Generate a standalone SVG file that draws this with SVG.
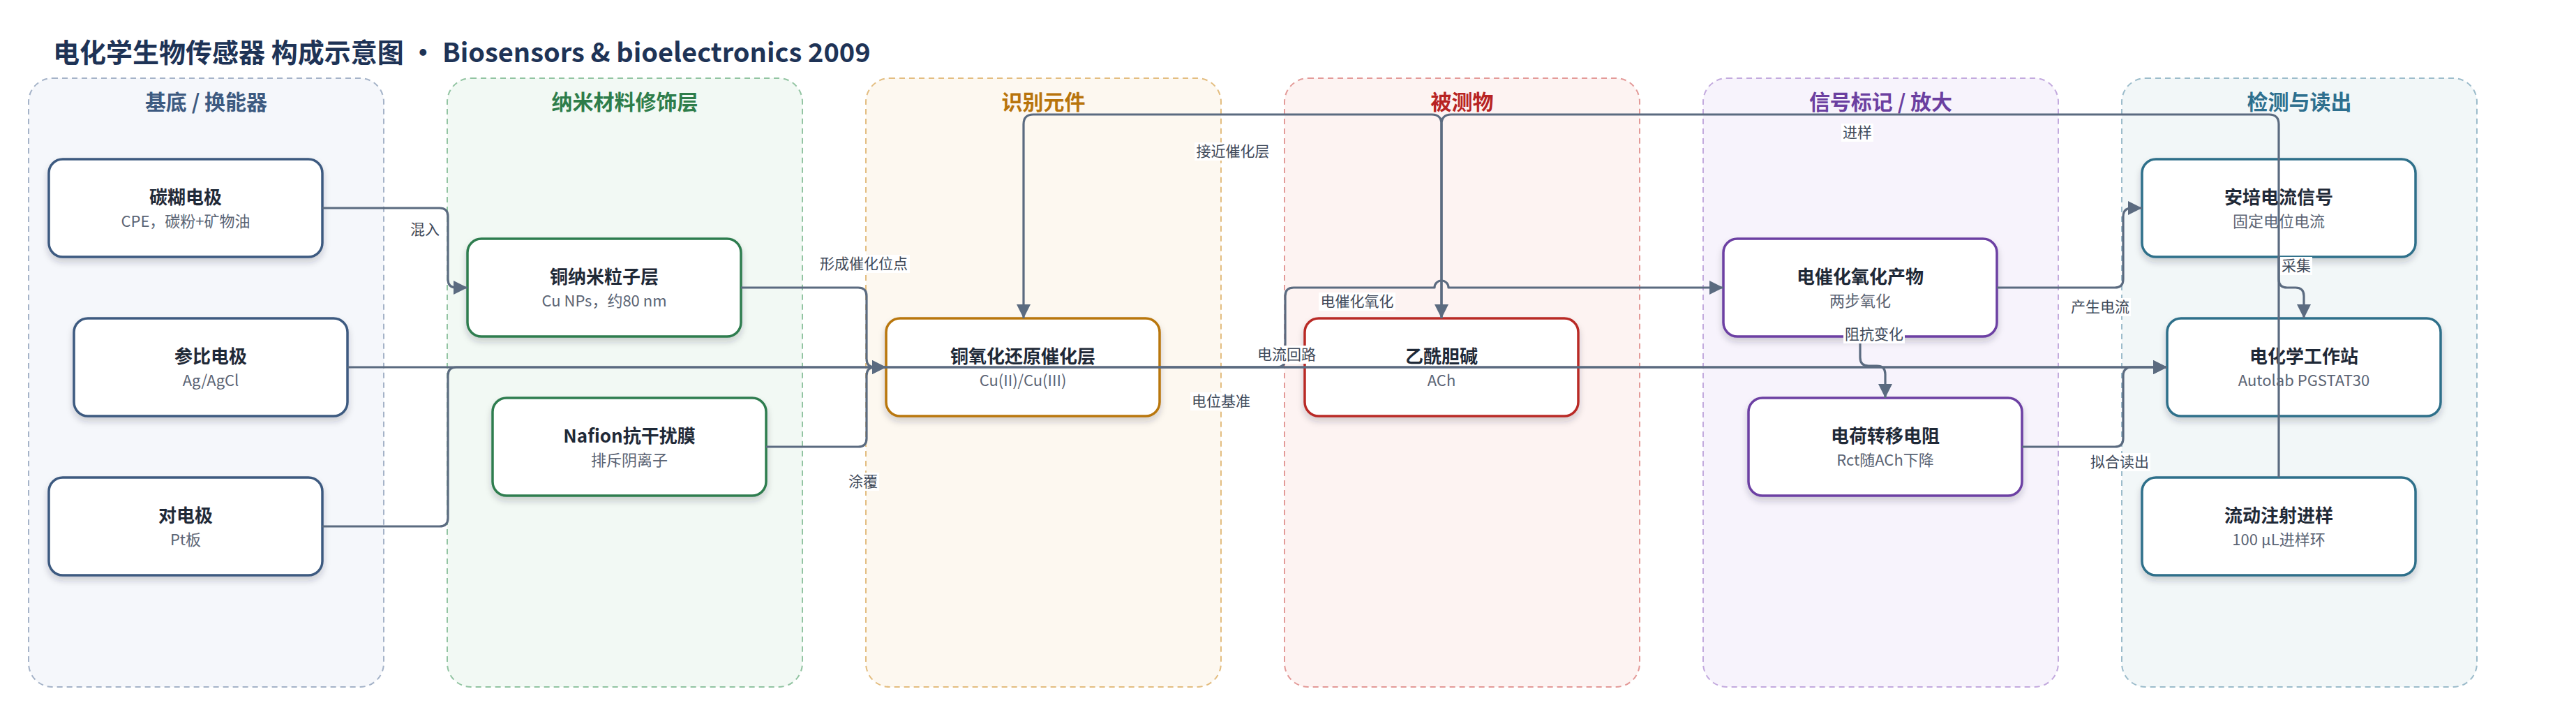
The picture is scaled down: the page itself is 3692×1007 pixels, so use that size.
<svg xmlns="http://www.w3.org/2000/svg" width="3692" height="1007" viewBox="0 0 3692 1007">
<style>
text{font-family:"Noto Sans CJK SC","Noto Sans",sans-serif}
.title{font-size:38px;font-weight:700;fill:#1e3356}
.lane{stroke-width:2;stroke-dasharray:8 6}
.lt{font-size:30px;font-weight:700;text-anchor:middle}
.node rect{fill:#fff;stroke-width:3.5;filter:url(#sh)}
.nt{font-size:26px;font-weight:700;fill:#1f2937;text-anchor:middle}
.ns{font-size:22px;fill:#5b6474;text-anchor:middle}
.edge{fill:none;stroke:#5b6b80;stroke-width:3.2;stroke-linejoin:round}
.arr{marker-end:url(#ah)}
.lb{font-size:21px;fill:#3f4a5a;text-anchor:middle}
.lbg{fill:#fff}
</style>
<defs>
<filter id="sh" x="-10%" y="-20%" width="120%" height="150%">
<feDropShadow dx="0" dy="6" stdDeviation="5" flood-color="#1e293b" flood-opacity="0.2"/>
</filter>
<marker id="ah" viewBox="0 0 20 20" refX="20" refY="10" markerWidth="20" markerHeight="20" markerUnits="userSpaceOnUse" orient="auto">
<path d="M0,0 L20,10 L0,20 z" fill="#5b6b80"/>
</marker>
</defs>
<rect width="3692" height="1007" fill="#fff"/>
<text class="title" x="76" y="89">电化学生物传感器 构成示意图 · Biosensors &amp; bioelectronics 2009</text>

<g id="lanes">
<g id="lane-substrate"><rect class="lane" x="41" y="112" width="509" height="872" rx="34" fill="#f5f7fb" stroke="#a5b3c8"/><text class="lt" x="295.5" y="157" fill="#3d5a80">基底 / 换能器</text></g>
<g id="lane-nano"><rect class="lane" x="641" y="112" width="509" height="872" rx="34" fill="#f2f9f4" stroke="#92c4a2"/><text class="lt" x="895.5" y="157" fill="#2e7d4a">纳米材料修饰层</text></g>
<g id="lane-recog"><rect class="lane" x="1241" y="112" width="509" height="872" rx="34" fill="#fdf8f0" stroke="#e3bd80"/><text class="lt" x="1495.5" y="157" fill="#b8740c">识别元件</text></g>
<g id="lane-analyte"><rect class="lane" x="1841" y="112" width="509" height="872" rx="34" fill="#fdf3f2" stroke="#e39a98"/><text class="lt" x="2095.5" y="157" fill="#b82323">被测物</text></g>
<g id="lane-signal"><rect class="lane" x="2441" y="112" width="509" height="872" rx="34" fill="#f7f3fc" stroke="#c3aade"/><text class="lt" x="2695.5" y="157" fill="#6b3fa0">信号标记 / 放大</text></g>
<g id="lane-detect"><rect class="lane" x="3041" y="112" width="509" height="872" rx="34" fill="#f2f7f8" stroke="#9cbccb"/><text class="lt" x="3295.5" y="157" fill="#2e6f8e">检测与读出</text></g>
</g>

<g id="nodes">
<g id="n-cpe" class="node"><rect x="70" y="228" width="392" height="140" rx="20" stroke="#3d5a80"/><text class="nt" x="266" y="292">碳糊电极</text><text class="ns" x="266" y="325">CPE，碳粉+矿物油</text></g>
<g id="n-ref" class="node"><rect x="106" y="456" width="392" height="140" rx="20" stroke="#3d5a80"/><text class="nt" x="302" y="520">参比电极</text><text class="ns" x="302" y="553">Ag/AgCl</text></g>
<g id="n-counter" class="node"><rect x="70" y="684" width="392" height="140" rx="20" stroke="#3d5a80"/><text class="nt" x="266" y="748">对电极</text><text class="ns" x="266" y="781">Pt板</text></g>
<g id="n-cunp" class="node"><rect x="670" y="342" width="392" height="140" rx="20" stroke="#2f7d4f"/><text class="nt" x="866" y="406">铜纳米粒子层</text><text class="ns" x="866" y="439">Cu NPs，约80 nm</text></g>
<g id="n-nafion" class="node"><rect x="706" y="570" width="392" height="140" rx="20" stroke="#2f7d4f"/><text class="nt" x="902" y="634">Nafion抗干扰膜</text><text class="ns" x="902" y="667">排斥阴离子</text></g>
<g id="n-cat" class="node"><rect x="1270" y="456" width="392" height="140" rx="20" stroke="#b9770e"/><text class="nt" x="1466" y="520">铜氧化还原催化层</text><text class="ns" x="1466" y="553">Cu(II)/Cu(III)</text></g>
<g id="n-ach" class="node"><rect x="1870" y="456" width="392" height="140" rx="20" stroke="#b92b27"/><text class="nt" x="2066" y="520">乙酰胆碱</text><text class="ns" x="2066" y="553">ACh</text></g>
<g id="n-oxprod" class="node"><rect x="2470" y="342" width="392" height="140" rx="20" stroke="#6c3fa3"/><text class="nt" x="2666" y="406">电催化氧化产物</text><text class="ns" x="2666" y="439">两步氧化</text></g>
<g id="n-rct" class="node"><rect x="2506" y="570" width="392" height="140" rx="20" stroke="#6c3fa3"/><text class="nt" x="2702" y="634">电荷转移电阻</text><text class="ns" x="2702" y="667">Rct随ACh下降</text></g>
<g id="n-amp" class="node"><rect x="3070" y="228" width="392" height="140" rx="20" stroke="#2f6f8a"/><text class="nt" x="3266" y="292">安培电流信号</text><text class="ns" x="3266" y="325">固定电位电流</text></g>
<g id="n-ws" class="node"><rect x="3106" y="456" width="392" height="140" rx="20" stroke="#2f6f8a"/><text class="nt" x="3302" y="520">电化学工作站</text><text class="ns" x="3302" y="553">Autolab PGSTAT30</text></g>
<g id="n-fia" class="node"><rect x="3070" y="684" width="392" height="140" rx="20" stroke="#2f6f8a"/><text class="nt" x="3266" y="748">流动注射进样</text><text class="ns" x="3266" y="781">100 μL进样环</text></g>
</g>

<g id="connectors">
<path class="edge arr" d="M462,298 H630 Q642,298 642,310 V400 Q642,412 654,412 H670"/>
<path class="edge arr" d="M1062,412 H1230 Q1242,412 1242,424 V514 Q1242,526 1254,526 H1270"/>
<path class="edge arr" d="M1098,640 H1230 Q1242,640 1242,628 V538 Q1242,526 1254,526 H1270"/>
<path class="edge arr" d="M498,526 H3106"/>
<path class="edge arr" d="M462,754 H630 Q642,754 642,742 V538 Q642,526 654,526 H3106"/>
<path class="edge arr" d="M1662,526 H1830 Q1842,526 1842,514 V424 Q1842,412 1854,412 H2056 A10,10 0 0 1 2076,412 H2470"/>
<path class="edge arr" d="M2066,456 V178 Q2066,164 2052,164 H1481 Q1467,164 1467,178 V456"/>
<path class="edge arr" d="M3266,684 V178 Q3266,164 3252,164 H2080 Q2066,164 2066,178 V456"/>
<path class="edge arr" d="M2862,412 H3031 Q3043,412 3043,400 V310 Q3043,298 3055,298 H3070"/>
<path class="edge arr" d="M2666,482 V512 Q2666,524 2678,524 H2690 Q2702,524 2702,536 V570"/>
<path class="edge arr" d="M2898,640 H3031 Q3043,640 3043,628 V538 Q3043,526 3055,526 H3106"/>
<path class="edge arr" d="M3266,368 V400 Q3266,412 3278,412 H3290 Q3302,412 3302,424 V456"/>
</g>

<g id="edge-labels">
<rect class="lbg" x="586" y="316" width="46" height="26"/><text class="lb" x="609" y="336">混入</text>
<rect class="lbg" x="1172" y="365" width="132" height="26"/><text class="lb" x="1238" y="385">形成催化位点</text>
<rect class="lbg" x="1214" y="677" width="46" height="26"/><text class="lb" x="1237" y="697">涂覆</text>
<rect class="lbg" x="1706" y="562" width="88" height="26"/><text class="lb" x="1750" y="582">电位基准</text>
<rect class="lbg" x="1800" y="495" width="88" height="26"/><text class="lb" x="1844" y="515">电流回路</text>
<rect class="lbg" x="1890" y="419" width="110" height="26"/><text class="lb" x="1945" y="439">电催化氧化</text>
<rect class="lbg" x="1712" y="204" width="110" height="26"/><text class="lb" x="1767" y="224">接近催化层</text>
<rect class="lbg" x="2639" y="177" width="46" height="26"/><text class="lb" x="2662" y="197">进样</text>
<rect class="lbg" x="2966" y="427" width="88" height="26"/><text class="lb" x="3010" y="447">产生电流</text>
<rect class="lbg" x="2642" y="466" width="88" height="26"/><text class="lb" x="2686" y="486">阻抗变化</text>
<rect class="lbg" x="2994" y="649" width="88" height="26"/><text class="lb" x="3038" y="669">拟合读出</text>
<rect class="lbg" x="3268" y="368" width="46" height="26"/><text class="lb" x="3291" y="388">采集</text>
</g>
</svg>
